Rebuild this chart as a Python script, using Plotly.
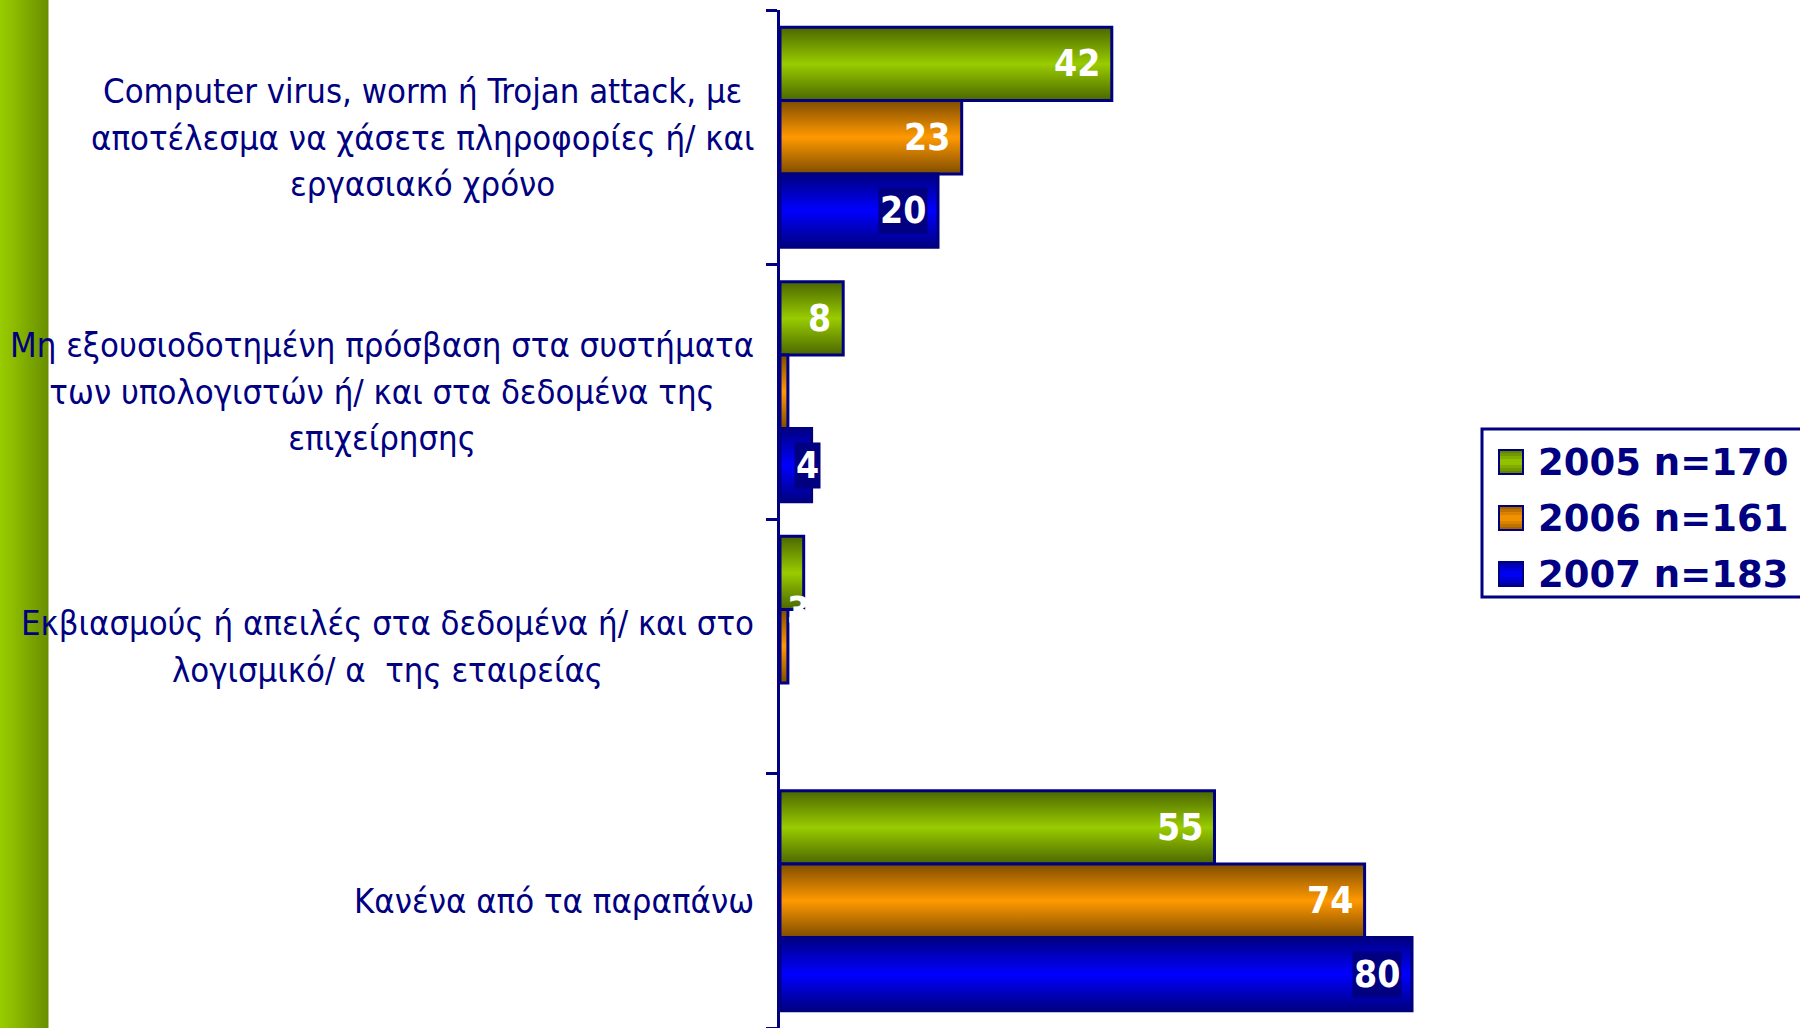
import plotly.graph_objects as go

# ---- data -------------------------------------------------------------
categories = [
    "Computer virus, worm ή Trojan attack, με<br>αποτέλεσμα να χάσετε πληροφορίες ή/ και<br>εργασιακό χρόνο",
    "Μη εξουσιοδοτημένη πρόσβαση στα συστήματα<br>των υπολογιστών ή/ και στα δεδομένα της<br>επιχείρησης",
    "Εκβιασμούς ή απειλές στα δεδομένα ή/ και στο<br>λογισμικό/ α  της εταιρείας",
    "Κανένα από τα παραπάνω",
]
series_names = ["2005 n=170", "2006 n=161", "2007 n=183"]
values_2005 = [42, 8, 3, 55]
values_2006 = [23, 1, 1, 74]
values_2007 = [20, 4, 0, 80]
series_values = [values_2005, values_2006, values_2007]

# ---- styling ----------------------------------------------------------
NAVY = "#000080"
BRIGHT = ["#99CC00", "#FF9900", "#0000FF"]
DARK = ["#4B6600", "#7F4C00", "#000080"]
LABEL_BG = [None, None, NAVY]

W, H = 1800, 1028
ML, MR, MT, MB = 780, 230, 10, 0
PW, PH = W - ML - MR, H - MT - MB
X_MAX = 100
BAR_W = 0.288
LABEL_FONT = "DejaVu Sans Condensed, DejaVu Sans, sans-serif"
CAT_SIZE = 34.4        # glyph size of the category labels
CAT_LINE = 46.5        # line pitch of the category labels, px


def px_to_paper_x(px):
    return (px - ML) / PW


def px_to_paper_y(py):
    return (H - MB - py) / PH


def mix(c1, c2, t):
    a = [int(c1[i:i + 2], 16) for i in (1, 3, 5)]
    b = [int(c2[i:i + 2], 16) for i in (1, 3, 5)]
    return "#" + "".join(f"{round(x + (y - x) * t):02X}" for x, y in zip(a, b))


fig = go.Figure()
annotations = []
shapes = []

# ---- bars as gradient-filled rectangles --------------------------------
for k, (name, vals) in enumerate(zip(series_names, series_values)):
    for c, v in enumerate(vals):
        if v <= 0:
            continue
        yc = c + (k - 1) * BAR_W
        y0, y1 = yc - BAR_W / 2, yc + BAR_W / 2
        fig.add_trace(go.Scatter(
            x=[0, v, v, 0, 0], y=[y0, y0, y1, y1, y0],
            mode="lines", fill="toself",
            line=dict(color=NAVY, width=3),
            fillgradient=dict(type="vertical",
                              colorscale=[[0, DARK[k]], [0.5, BRIGHT[k]], [1, DARK[k]]]),
            name=name, showlegend=False, hoverinfo="skip",
        ))

        # value labels (values of 1 are not labelled)
        if v < 2:
            continue
        short = v * PW / X_MAX < 45
        ann = dict(
            x=0 if short else v, y=yc, xref="x", yref="y",
            text=f"<b>{v}</b>", showarrow=False,
            xanchor="left" if short else "right", yanchor="middle",
            xshift=14 if short else -10,
            font=dict(family=LABEL_FONT, size=37, color="white"),
            borderpad=1,
        )
        if LABEL_BG[k]:
            ann["bgcolor"] = LABEL_BG[k]
        if short and k == 0:
            ann["xshift"] = 5
            ann["yshift"] = -38
        annotations.append(ann)

# ---- category labels ---------------------------------------------------
for c, text in enumerate(categories):
    styled = "<br>".join(
        f'<span style="font-size:{CAT_SIZE}px">{line}</span>' for line in text.split("<br>")
    )
    annotations.append(dict(
        x=0, y=c, xref="x", yref="y", text=styled, showarrow=False,
        xanchor="right", yanchor="middle", align="center", xshift=-24,
        font=dict(family=LABEL_FONT, size=CAT_LINE / 1.3, color=NAVY),
    ))

# ---- green strip on the left edge --------------------------------------
STRIP_W = 48
steps = 24
for i in range(steps):
    shapes.append(dict(
        type="rect", xref="paper", yref="paper", layer="below",
        x0=px_to_paper_x(i * STRIP_W / steps), x1=px_to_paper_x((i + 1) * STRIP_W / steps + 0.5),
        y0=px_to_paper_y(H), y1=px_to_paper_y(0),
        fillcolor=mix("#99CC00", "#6A9000", i / (steps - 1)), line=dict(width=0),
    ))

# ---- legend ------------------------------------------------------------
shapes.append(dict(
    type="rect", xref="paper", yref="paper",
    x0=px_to_paper_x(1482), x1=px_to_paper_x(1803),
    y0=px_to_paper_y(597), y1=px_to_paper_y(429),
    line=dict(color=NAVY, width=3), fillcolor="white",
))
row_y = [462, 518, 574]
SQ = 24
for k, name in enumerate(series_names):
    top = row_y[k] - SQ / 2
    bands = 8
    for b in range(bands):
        t = abs((b + 0.5) / bands - 0.5) * 2
        shapes.append(dict(
            type="rect", xref="paper", yref="paper",
            x0=px_to_paper_x(1499), x1=px_to_paper_x(1499 + SQ),
            y0=px_to_paper_y(top + (b + 1) * SQ / bands + 0.3),
            y1=px_to_paper_y(top + b * SQ / bands),
            fillcolor=mix(BRIGHT[k], DARK[k], t * 0.8), line=dict(width=0),
        ))
    shapes.append(dict(
        type="rect", xref="paper", yref="paper",
        x0=px_to_paper_x(1499), x1=px_to_paper_x(1499 + SQ),
        y0=px_to_paper_y(top + SQ), y1=px_to_paper_y(top),
        line=dict(color=NAVY, width=2), fillcolor="rgba(0,0,0,0)",
    ))
    annotations.append(dict(
        x=px_to_paper_x(1536), y=px_to_paper_y(row_y[k]), xref="paper", yref="paper",
        text=f"<b>{name}</b>", showarrow=False, xanchor="left", yanchor="middle",
        font=dict(family="DejaVu Sans, Verdana, sans-serif", size=37, color=NAVY),
    ))

fig.update_layout(
    width=W, height=H,
    margin=dict(l=ML, r=MR, t=MT, b=MB),
    paper_bgcolor="white", plot_bgcolor="white",
    showlegend=False,
    xaxis=dict(range=[0, X_MAX], visible=False, fixedrange=True),
    yaxis=dict(
        range=[len(categories) - 0.5, -0.5],
        tickvals=[i - 0.5 for i in range(len(categories) + 1)],
        showticklabels=False, ticks="outside", ticklen=11, tickwidth=3, tickcolor=NAVY,
        showline=True, linecolor=NAVY, linewidth=3,
        showgrid=False, zeroline=False, fixedrange=True,
    ),
    annotations=annotations,
    shapes=shapes,
)

fig.write_html("out.html")
